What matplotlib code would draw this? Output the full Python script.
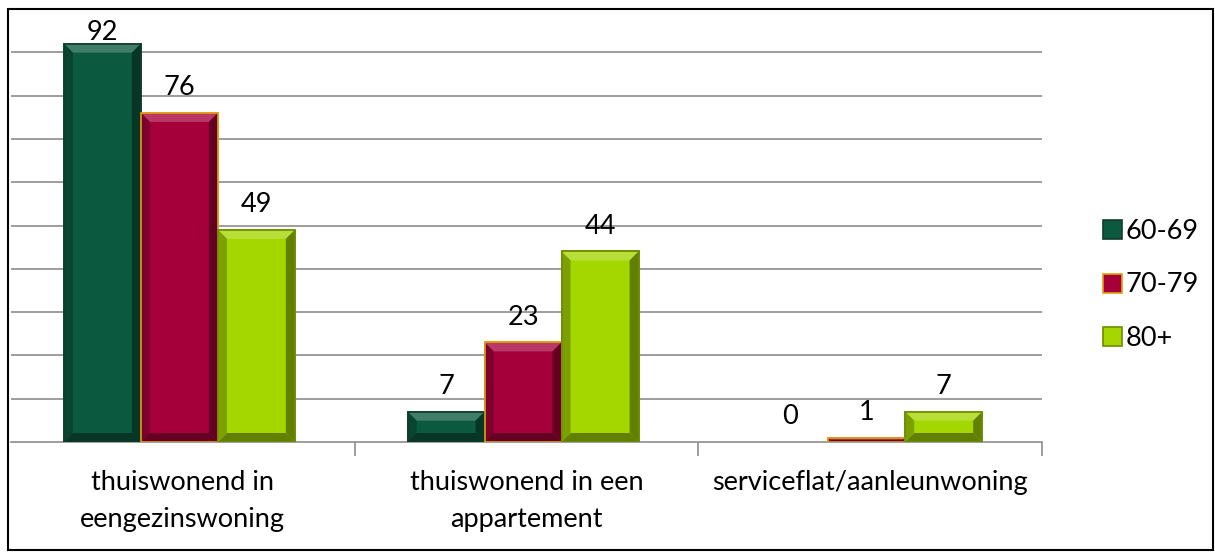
import matplotlib
matplotlib.use("Agg")
import matplotlib.pyplot as plt
import numpy as np
from matplotlib.patches import Polygon, Rectangle, Patch
from matplotlib.colors import to_rgb

# data
categories = ["thuiswonend in\neengezinswoning", "thuiswonend in een\nappartement", "serviceflat/aanleunwoning"]
groups = ["60-69", "70-79", "80+"]
values = {
    "60-69": [92, 7, 0],
    "70-79": [76, 23, 1],
    "80+": [49, 44, 7],
}
colors = {"60-69": "#0b5a40", "70-79": "#a5003a", "80+": "#a4d600"}
edges = {"60-69": "#123d2c", "70-79": "#e0a010", "80+": "#6f8c00"}

plt.rcParams['font.family'] = ['Lato', 'DejaVu Sans']
FS = 19.5

W, H = 1215, 552
fig = plt.figure(figsize=(W / 100, H / 100), dpi=100)
ax = fig.add_axes([11 / W, 1 - 442 / H, (1042 - 11) / W, (442 - 9) / H])

x = np.arange(len(categories))
bw = 0.224
offsets = [-bw, 0, bw]

bars = {}
for g, off in zip(groups, offsets):
    lw = [1.2 if v > 0 else 0 for v in values[g]]
    bars[g] = ax.bar(x + off - 0.01, values[g], width=bw, color=colors[g],
                     edgecolor=edges[g], linewidth=lw, zorder=3)

ax.set_xlim(-0.5, 2.5)
ax.set_ylim(0, 100)
ax.set_yticks(np.arange(10, 101, 10))
ax.yaxis.grid(True, color="#8c8c8c", linewidth=1.2)
ax.tick_params(axis="y", left=False, labelleft=False)
for s in ["top", "right", "left"]:
    ax.spines[s].set_visible(False)
ax.spines["bottom"].set_color("#8c8c8c")
ax.spines["bottom"].set_linewidth(1.2)
ax.set_xticks([0.5, 1.5, 2.5])
ax.set_xticklabels([])
ax.tick_params(axis="x", which="major", length=10, color="#8c8c8c", width=1.2)
ax.set_xticks(x, minor=True)
ax.set_xticklabels(categories, minor=True, fontsize=FS, linespacing=1.6)
ax.tick_params(axis="x", which="minor", length=0, pad=20)


def blend(c, other, t):
    c = np.array(to_rgb(c))
    o = np.array(to_rgb(other))
    return tuple(c * (1 - t) + o * t)


# bevel effect drawn from the bar geometry
fig.canvas.draw()
inv = ax.transData.inverted()
for g in groups:
    for rect in bars[g]:
        if rect.get_height() <= 0:
            continue
        (x0, y0), (x1, y1) = ax.transData.transform(
            [(rect.get_x(), rect.get_y()), (rect.get_x() + rect.get_width(), rect.get_y() + rect.get_height())])
        b = min(9, (y1 - y0) / 2, (x1 - x0) / 2)
        if b < 2:
            continue
        c = colors[g]
        faces = [
            ([(x0, y1), (x1, y1), (x1 - b, y1 - b), (x0 + b, y1 - b)], blend(c, "white", 0.22)),
            ([(x0, y0), (x1, y0), (x1 - b, y0 + b), (x0 + b, y0 + b)], blend(c, "black", 0.4)),
            ([(x0, y0), (x0, y1), (x0 + b, y1 - b), (x0 + b, y0 + b)], blend(c, "black", 0.25)),
            ([(x1, y0), (x1, y1), (x1 - b, y1 - b), (x1 - b, y0 + b)], blend(c, "black", 0.4)),
        ]
        for pts, fc in faces:
            ax.add_patch(Polygon(inv.transform(pts), closed=True, facecolor=fc,
                                 edgecolor="none", zorder=4))
        ax.add_patch(Rectangle((rect.get_x(), rect.get_y()), rect.get_width(), rect.get_height(),
                               fill=False, edgecolor=edges[g], linewidth=1.2, zorder=5))

# value labels (kept inside the frame near the top)
for g in groups:
    for rect, v in zip(bars[g], values[g]):
        cx = rect.get_x() + rect.get_width() / 2
        top_px = H - ax.transData.transform((cx, v))[1]  # from image top
        off_px = min(25, top_px - 33)
        ax.annotate(str(v), (cx, v), xytext=(0, off_px * 0.72), textcoords="offset points",
                    ha="center", va="center", fontsize=FS, zorder=6)

# legend
handles = [Patch(facecolor=colors[g], edgecolor=edges[g], linewidth=1.2) for g in groups]
fig.legend(handles, groups, loc="center left", bbox_to_anchor=(1092 / W, 1 - 285 / H),
           frameon=False, fontsize=FS, handlelength=0.7, handleheight=0.7,
           handletextpad=0.15, labelspacing=1.05, borderaxespad=0)

# outer frame
fig.add_artist(Rectangle((8 / W, 2 / H), (W - 10) / W, (H - 11) / H, transform=fig.transFigure,
                         fill=False, edgecolor="black", linewidth=1.5))

fig.savefig("out.png", dpi=100)
